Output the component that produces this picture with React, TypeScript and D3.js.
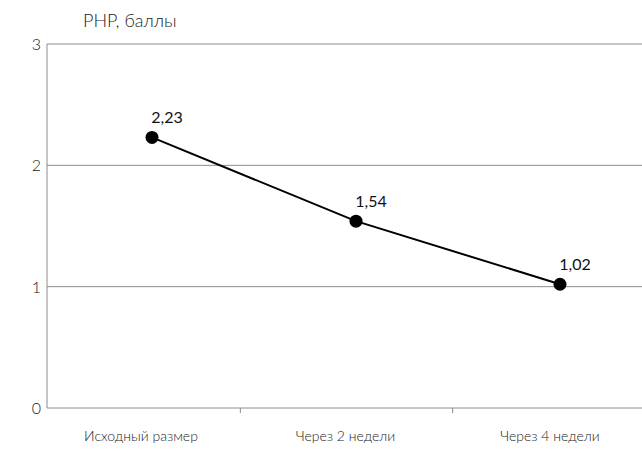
import React from "react";
import * as d3 from "d3";

const categories = ["Исходный размер", "Через 2 недели", "Через 4 недели"];
const values = [2.23, 1.54, 1.02];
const valueLabels = ["2,23", "1,54", "1,02"];
const yTicks = [0, 1, 2, 3];
const yTitle = "РНР, баллы";

export default function App() {
  const W = 642, H = 459;
  const left = 47, right = 642, top = 44, bottom = 408;
  const y = d3.scaleLinear().domain([0, 3]).range([bottom, top]);
  // band boundaries for axis ticks
  const xb = d3.scaleLinear().domain([0, 3]).range([28, 665]);
  // category label centres
  const xl = d3.scaleLinear().domain([0, 2]).range([141, 550]);
  // marker positions
  const xp = d3.scaleLinear().domain([0, 2]).range([152, 560]);
  const line = d3.line<number>().x((_, i) => xp(i)).y((d) => y(d));
  const font = "Lato, 'Open Sans', sans-serif";
  return (
    <svg width={W} height={H} style={{ position: "absolute", left: 0, top: 0 }}>
      <rect width={W} height={H} fill="#fff" />
      {yTicks.map((t) => (
        <g key={t}>
          <line x1={left} x2={right} y1={y(t)} y2={y(t)} stroke="#8c8c8c" strokeWidth={1} />
          <text x={41} y={y(t) + 6} textAnchor="end" fontSize={16} fontWeight={300} fontFamily={font} fill="#222">{t}</text>
        </g>
      ))}
      <line x1={left} x2={left} y1={top} y2={bottom} stroke="#8c8c8c" strokeWidth={1} />
      {[1, 2].map((i) => (
        <line key={i} x1={xb(i)} x2={xb(i)} y1={bottom} y2={bottom + 5} stroke="#8c8c8c" strokeWidth={1} />
      ))}
      {categories.map((c, i) => (
        <text key={c} x={xl(i)} y={441} textAnchor="middle" fontSize={14} fontWeight={300} fontFamily={font} fill="#222">{c}</text>
      ))}
      <text x={83} y={27} fontSize={18} fontWeight={300} fontFamily={font} fill="#222">{yTitle}</text>
      <path d={line(values) || ""} fill="none" stroke="#000" strokeWidth={2} />
      {values.map((v, i) => (
        <g key={i}>
          <circle cx={xp(i)} cy={y(v)} r={6.5} fill="#000" />
          <text x={xp(i) + 15} y={y(v) - 14} textAnchor="middle" fontSize={16} fontFamily={font} fill="#111">{valueLabels[i]}</text>
        </g>
      ))}
    </svg>
  );
}
